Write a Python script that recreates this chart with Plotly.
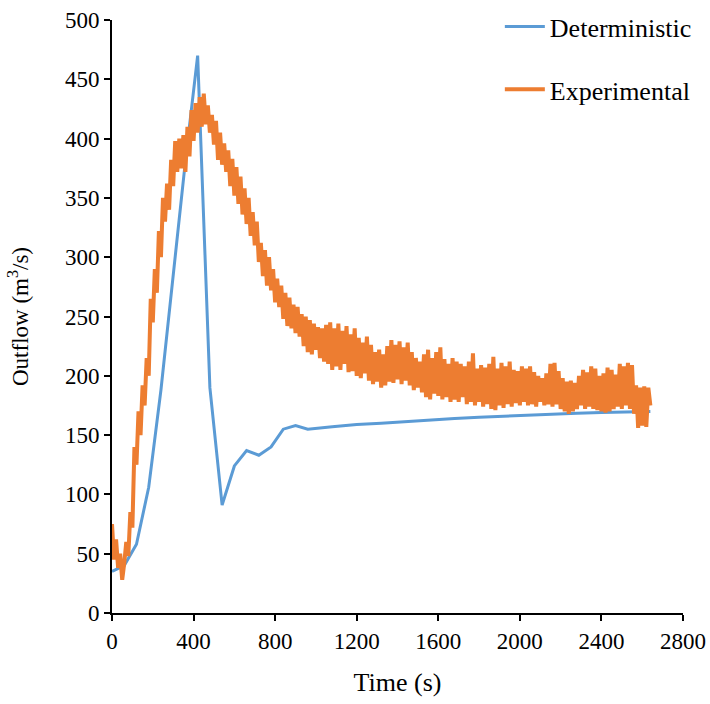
import plotly.graph_objects as go

# Deterministic series (time in s, outflow in m3/s)
det_time = [0, 60, 120, 180, 240, 300, 360, 420, 480, 540, 600, 660, 720, 780, 840,
            900, 960, 1080, 1200, 1320, 1440, 1560, 1680, 1800, 1920, 2040, 2160,
            2280, 2400, 2520, 2640]
det_flow = [35, 40, 58, 106, 188, 287, 381, 470, 190, 91, 124, 137, 133, 140, 155,
            158, 155, 157, 159, 160, 161.5, 163, 164, 165, 166, 167, 168,
            168.5, 169, 169.5, 170]

exp_step = 10
exp_flow = [
    75, 45, 62, 38, 50, 28, 42, 60, 48, 85,
    72, 140, 125, 170, 150, 192, 175, 215, 200, 265,
    245, 290, 270, 322, 300, 350, 330, 362, 340, 382,
    360, 398, 372, 400, 375, 403, 372, 410, 385, 424,
    398, 430, 405, 435, 410, 438, 412, 428, 405, 420,
    395, 415, 382, 405, 378, 396, 372, 390, 360, 383,
    352, 376, 345, 368, 336, 358, 328, 350, 318, 338,
    310, 330, 296, 312, 284, 306, 276, 300, 272, 290,
    262, 282, 258, 276, 248, 270, 242, 266, 240, 260,
    236, 258, 233, 252, 225, 250, 220, 247, 218, 244,
    222, 241, 215, 240, 212, 243, 210, 245, 205, 240,
    208, 244, 205, 238, 210, 242, 203, 235, 204, 240,
    200, 232, 198, 228, 202, 233, 196, 226, 193, 220,
    195, 222, 190, 218, 192, 225, 195, 230, 194, 226,
    197, 229, 193, 224, 196, 228, 192, 220, 188, 215,
    190, 212, 186, 218, 182, 222, 180, 215, 185, 220,
    183, 224, 180, 214, 182, 210, 178, 215, 180, 212,
    178, 210, 182, 208, 176, 212, 178, 219, 175, 206,
    178, 209, 174, 207, 176, 210, 172, 216, 171, 206,
    175, 211, 173, 208, 176, 212, 174, 205, 177, 204,
    175, 208, 178, 206, 175, 208, 176, 203, 174, 200,
    178, 198, 175, 202, 176, 210, 174, 211, 176, 204,
    172, 198, 170, 195, 168, 196, 170, 194, 172, 200,
    175, 205, 172, 203, 174, 208, 172, 206, 171, 200,
    170, 202, 169, 207, 170, 205, 172, 201, 174, 210,
    172, 208, 175, 211, 172, 209, 168, 192, 156, 190,
    158, 191, 157, 190, 175,
]
exp_time = [i * exp_step for i in range(len(exp_flow))]

x_ticks = [0, 400, 800, 1200, 1600, 2000, 2400, 2800]
y_ticks = [0, 50, 100, 150, 200, 250, 300, 350, 400, 450, 500]

FONT = "Liberation Serif, Times New Roman, serif"
BLUE = "#5B9BD5"
ORANGE = "#ED7D31"

fig = go.Figure()
fig.add_trace(go.Scatter(x=det_time, y=det_flow, mode="lines", name="Deterministic",
                         line=dict(color=BLUE, width=3), legendgroup="a"))
fig.add_trace(go.Scatter(x=exp_time, y=exp_flow, mode="lines", name="Experimental",
                         line=dict(color=ORANGE, width=4), legendgroup="b"))

fig.update_layout(
    width=710, height=704,
    margin=dict(l=112, r=27, t=20, b=91, autoexpand=False),
    paper_bgcolor="white", plot_bgcolor="white",
    font=dict(family=FONT, size=23, color="black"),
    showlegend=True,
    legend=dict(x=0.704, y=0.9955, xref="container", yref="container",
                xanchor="left", yanchor="top",
                bgcolor="rgba(0,0,0,0)", font=dict(size=26, family=FONT),
                tracegroupgap=26, itemwidth=40),
    xaxis=dict(range=[0, 2800], tickvals=x_ticks, showgrid=False, zeroline=False,
               showline=True, linecolor="black", linewidth=2,
               tickfont=dict(size=23, family=FONT),
               ticks="outside", ticklen=6, tickwidth=2, tickcolor="black",
               title=dict(text="Time (s)", font=dict(size=26, family=FONT), standoff=20)),
    yaxis=dict(range=[0, 500], tickvals=y_ticks, showgrid=False, zeroline=False,
               showline=True, linecolor="black", linewidth=2,
               tickfont=dict(size=23, family=FONT),
               ticks="outside", ticklen=6, tickwidth=2, tickcolor="black",
               title=dict(text="Outflow (m<sup>3</sup>/s)", font=dict(size=23, family=FONT),
                          standoff=30)),
)

fig.write_html("out.html")
